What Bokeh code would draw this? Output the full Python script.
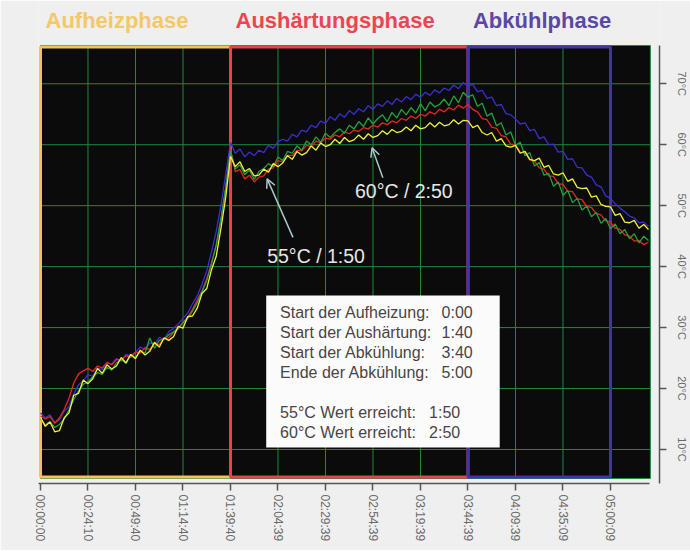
from bokeh.plotting import figure
from bokeh.models import Range1d, FixedTicker, Arrow, OpenHead
from bokeh.core.properties import value
from bokeh.embed import file_html
from bokeh.resources import INLINE

# ---------------- data ----------------
# sample times in minutes (one reading every 2.5 min)
minutes = [i * 2.5 for i in range(129)]

temp_yellow = [15.3, 13.8, 14.5, 12.9, 13.1, 15.2, 16.0, 18.9, 19.2, 21.4, 20.8, 21.6, 23.3, 22.5, 23.9, 23.2,
               23.7, 25.1, 24.2, 25.6, 24.9, 26.3, 25.5, 26.1, 27.6, 26.8, 28.3, 27.9, 28.5, 30.2, 29.9, 31.8,
               31.9, 33.2, 35.6, 36.4, 39.5, 41.7, 46.3, 51.4, 58.1, 56.4, 57.2, 55.6, 56.1, 54.9, 55.0, 56.0,
               55.5, 56.9, 56.4, 57.0, 58.2, 57.6, 58.9, 58.3, 58.7, 59.8, 59.1, 60.3, 59.7, 60.0, 60.9, 60.2,
               61.2, 60.5, 60.8, 61.6, 60.9, 61.8, 61.2, 61.5, 62.3, 61.7, 62.5, 62.0, 62.2, 62.9, 62.3, 63.2,
               62.6, 62.8, 63.6, 62.9, 63.7, 63.1, 63.3, 64.1, 63.4, 64.0, 63.9, 62.8, 63.2, 62.0, 61.6, 62.0,
               60.6, 61.0, 59.8, 59.6, 59.9, 58.6, 58.9, 57.6, 57.4, 57.8, 56.3, 56.6, 55.2, 55.0, 55.4, 54.0,
               54.4, 53.0, 52.8, 52.9, 51.4, 51.6, 50.2, 49.9, 49.8, 48.4, 48.7, 47.3, 47.2, 47.6, 46.3, 46.9,
               46.1]

temp_blue = [16.0, 15.2, 15.7, 14.4, 14.9, 16.3, 17.0, 19.1, 20.6, 21.2, 22.3, 22.0, 23.4, 23.1, 24.2, 24.0,
             24.9, 24.5, 25.6, 25.3, 26.0, 26.8, 26.4, 27.5, 27.3, 28.4, 28.1, 29.3, 29.9, 30.6, 31.5, 32.4,
             33.9, 35.2, 37.1, 39.3, 42.4, 45.8, 50.1, 55.2, 60.4, 58.6, 59.3, 58.0, 58.8, 58.2, 59.1, 58.7,
             59.9, 59.4, 60.5, 60.9, 60.6, 61.7, 61.3, 62.4, 62.1, 63.2, 62.8, 63.9, 63.5, 64.6, 64.0, 65.1,
             64.5, 65.6, 65.0, 65.9, 65.4, 66.4, 65.8, 66.7, 66.3, 67.2, 66.6, 67.6, 67.0, 67.9, 67.4, 68.3,
             67.8, 68.6, 68.1, 69.0, 68.5, 69.3, 68.9, 69.8, 69.2, 70.2, 69.6, 69.9, 68.7, 68.9, 67.6, 67.8,
             66.4, 66.6, 65.1, 64.9, 64.2, 63.4, 63.6, 62.3, 62.5, 61.0, 61.3, 60.0, 60.1, 58.8, 58.9, 57.6,
             57.7, 56.3, 56.2, 55.0, 54.7, 53.4, 53.1, 51.6, 51.2, 50.3, 49.6, 49.0, 48.3, 48.0, 47.2, 47.3,
             46.6]

temp_green = [15.1, 14.0, 14.6, 13.6, 14.1, 15.0, 16.5, 18.2, 19.6, 20.7, 21.1, 21.9, 22.6, 22.3, 23.5, 23.0,
              24.2, 24.8, 24.1, 25.6, 25.1, 26.2, 25.8, 28.3, 26.6, 27.9, 28.1, 28.8, 29.3, 29.9, 30.8, 31.5,
              32.7, 34.1, 35.9, 37.7, 40.4, 43.6, 47.9, 53.0, 59.0, 56.0, 56.7, 55.1, 55.8, 54.3, 55.6, 56.1,
              56.9, 56.4, 58.0, 57.4, 58.9, 58.6, 59.8, 59.1, 60.6, 60.0, 61.3, 60.4, 61.9, 61.2, 62.0, 62.6,
              61.9, 63.2, 62.6, 63.8, 63.0, 64.4, 63.4, 64.3, 64.9, 63.8, 65.3, 64.4, 65.8, 64.9, 66.1, 65.2,
              66.7, 65.6, 67.0, 66.2, 66.6, 67.5, 66.4, 68.0, 66.9, 68.6, 67.8, 68.2, 66.3, 66.8, 64.7, 65.2,
              63.1, 63.6, 61.6, 62.1, 59.9, 60.4, 58.2, 58.7, 56.5, 57.1, 55.0, 55.3, 53.2, 53.9, 51.7, 52.5,
              50.5, 51.2, 49.3, 49.9, 48.2, 48.9, 47.1, 47.9, 46.2, 47.0, 45.4, 46.1, 44.6, 45.4, 43.9, 45.0,
              44.3]

temp_red = [15.5, 15.0, 15.4, 14.3, 15.2, 16.6, 18.4, 20.9, 22.4, 22.9, 23.3, 22.8, 23.7, 23.4, 24.3, 23.9,
            24.8, 24.6, 25.4, 25.1, 26.0, 25.8, 26.7, 26.4, 27.3, 27.2, 28.2, 28.3, 29.2, 29.8, 30.9, 31.7,
            33.0, 34.5, 36.0, 38.0, 40.6, 43.5, 47.6, 52.9, 59.2, 55.6, 55.9, 54.4, 55.0, 53.9, 54.7, 54.9,
            56.0, 56.2, 57.4, 57.2, 58.3, 58.2, 59.1, 59.0, 59.9, 59.7, 60.6, 60.3, 61.1, 60.9, 61.6, 61.3,
            62.1, 61.8, 62.4, 62.2, 62.8, 62.6, 63.2, 62.9, 63.6, 63.3, 63.9, 63.6, 64.3, 64.0, 64.7, 64.3,
            65.0, 64.7, 65.4, 65.0, 65.8, 65.4, 66.1, 65.7, 66.5, 66.0, 66.6, 65.8, 65.4, 64.3, 64.1, 62.9,
            62.7, 61.5, 61.3, 60.1, 60.0, 58.8, 58.7, 57.5, 57.3, 56.2, 56.0, 54.9, 54.8, 53.6, 53.5, 52.4,
            52.3, 51.1, 51.0, 49.9, 49.7, 48.7, 48.5, 47.5, 47.3, 46.3, 46.1, 45.2, 45.0, 44.2, 44.3, 43.6,
            44.0]

tick_minutes = [0, 25, 50, 75, 100, 125, 150, 175, 200, 225, 250, 275, 300]
tick_labels = ["00:00:00", "00:24:10", "00:49:40", "01:14:40", "01:39:40", "02:04:39", "02:29:39",
               "02:54:39", "03:19:39", "03:44:39", "04:09:39", "04:35:09", "05:00:09"]
temp_ticks = [10, 20, 30, 40, 50, 60, 70]
temp_labels = ["10°C", "20°C", "30°C", "40°C", "50°C", "60°C", "70°C"]

phase_names = ["Aufheizphase", "Aushärtungsphase", "Abkühlphase"]
phase_start = [0, 100, 225]
phase_end = [100, 225, 300]
phase_colors = ["#f2c35c", "#e8434c", "#3f35a8"]
title_colors = ["#f4c866", "#ea4652", "#5a48a8"]

info_labels = ["Start der Aufheizung:", "Start der Aushärtung:", "Start der Abkühlung:",
               "Ende der Abkühlung:", "55°C Wert erreicht:", "60°C Wert erreicht:"]
info_values = ["0:00", "1:40", "3:40", "5:00", "1:50", "2:50"]

# ---------------- layout constants ----------------
X0, X1 = -1.05, 325.8
Y0, Y1 = 4.42, 83.17          # top of frame holds the phase titles
PLOT_END = 321                # right end of the black recording area
BLACK_TOP, BLACK_BOTTOM = 76.28, 5.24
BOX_TOP, BOX_BOTTOM = 76.04, 5.49
TITLE_Y = 80.45
GRID = "#1f8a3c"
BG = "#efefef"
FONT = value("Liberation Sans")

p = figure(width=690, height=550, x_range=Range1d(X0, X1), y_range=Range1d(Y0, Y1),
           output_backend="svg", toolbar_location=None,
           x_axis_location="below", y_axis_location="right",
           min_border_left=38, min_border_right=30, min_border_top=3, min_border_bottom=67,
           background_fill_color=BG, border_fill_color=BG, outline_line_color=None)
p.grid.visible = False

# black recording area with green outline
p.quad(left=[0], right=[PLOT_END], bottom=[BLACK_BOTTOM], top=[BLACK_TOP],
       fill_color="#0b0b0b", line_color=GRID, line_width=1)
# green grid
n_v = len(tick_minutes) - 1
p.segment(x0=tick_minutes[1:], x1=tick_minutes[1:], y0=[BLACK_BOTTOM] * n_v, y1=[BLACK_TOP] * n_v,
          line_color=GRID, line_width=1)
p.segment(x0=[0] * len(temp_ticks), x1=[PLOT_END] * len(temp_ticks), y0=temp_ticks, y1=temp_ticks,
          line_color=GRID, line_width=1)

# phase boxes
p.quad(left=phase_start, right=phase_end, top=[BOX_TOP] * 3, bottom=[BOX_BOTTOM] * 3,
       fill_color=None, line_color=phase_colors, line_width=3)

# temperature curves
p.line(minutes, temp_blue, line_color="#3b2fd2", line_width=1.3)
p.line(minutes, temp_red, line_color="#e8261f", line_width=1.3)
p.line(minutes, temp_green, line_color="#22a23c", line_width=1.3)
p.line(minutes, temp_yellow, line_color="#f0f03a", line_width=1.3)

# info box
p.quad(left=[118.8], right=[241.7], bottom=[10.34], top=[35.27], fill_color="#fbfbfb", line_color=None)
rows_y = [32.5, 29.25, 25.96, 22.68, 16.12, 12.84]
p.text(x=[126.1] * 6, y=rows_y, text=info_labels, text_font=FONT,
       text_font_size="16px", text_color="#4a4446", text_baseline="middle", text_align="left")
p.text(x=[227.5] * 4 + [220.9] * 2, y=rows_y, text=info_values, text_font=FONT,
       text_font_size="16px", text_color="#4a4446", text_baseline="middle", text_align="right")

# callouts
p.text(x=[119.3, 165.5], y=[41.8, 52.4], text=["55°C / 1:50", "60°C / 2:50"],
       text_font=FONT, text_font_size="19.5px", text_color="#e6e6e6",
       text_baseline="middle", text_align="left")
ARROW_C = "#a8c8cc"
p.add_layout(Arrow(end=OpenHead(size=9, line_color=ARROW_C, line_width=1.5),
                   x_start=132.9, y_start=44.8, x_end=119.3, y_end=54.4,
                   line_color=ARROW_C, line_width=1.5))
p.add_layout(Arrow(end=OpenHead(size=9, line_color=ARROW_C, line_width=1.5),
                   x_start=180.2, y_start=54.6, x_end=174.5, y_end=59.5,
                   line_color=ARROW_C, line_width=1.5))

# phase titles above the recording area
p.text(x=phase_start, y=[TITLE_Y] * 3, text=phase_names, x_offset=5,
       text_font=FONT, text_font_style="bold", text_font_size="22px", text_color=title_colors,
       text_baseline="middle", text_align="left")

# bottom time axis
xa = p.xaxis[0]
xa.ticker = FixedTicker(ticks=tick_minutes)
xa.major_label_overrides = dict(zip(tick_minutes, tick_labels))
xa.major_label_orientation = "vertical"
xa.major_label_text_font = "Liberation Sans"
xa.major_label_text_font_size = "12px"
xa.major_label_text_color = "#6a6a6a"
xa.major_label_standoff = 4
xa.axis_line_color = "#555555"
xa.axis_line_width = 1.5
xa.major_tick_line_color = "#555555"
xa.major_tick_line_width = 1.5
xa.major_tick_out = 7
xa.major_tick_in = 0
xa.minor_tick_line_color = None
xa.bounds = (-1, 320.5)

# right temperature axis
ya = p.yaxis[0]
ya.ticker = FixedTicker(ticks=temp_ticks)
ya.major_label_overrides = dict(zip(temp_ticks, temp_labels))
ya.major_label_orientation = "vertical"
ya.major_label_text_font = "Liberation Sans"
ya.major_label_text_font_size = "11px"
ya.major_label_text_color = "#6a6a6a"
ya.major_label_standoff = 9
ya.axis_line_color = "#555555"
ya.axis_line_width = 1.5
ya.major_tick_line_color = "#555555"
ya.major_tick_line_width = 1.5
ya.major_tick_out = 7
ya.major_tick_in = 0
ya.minor_tick_line_color = None
ya.bounds = (Y0, BLACK_TOP)

open("out.html", "w").write(file_html(p, INLINE))
